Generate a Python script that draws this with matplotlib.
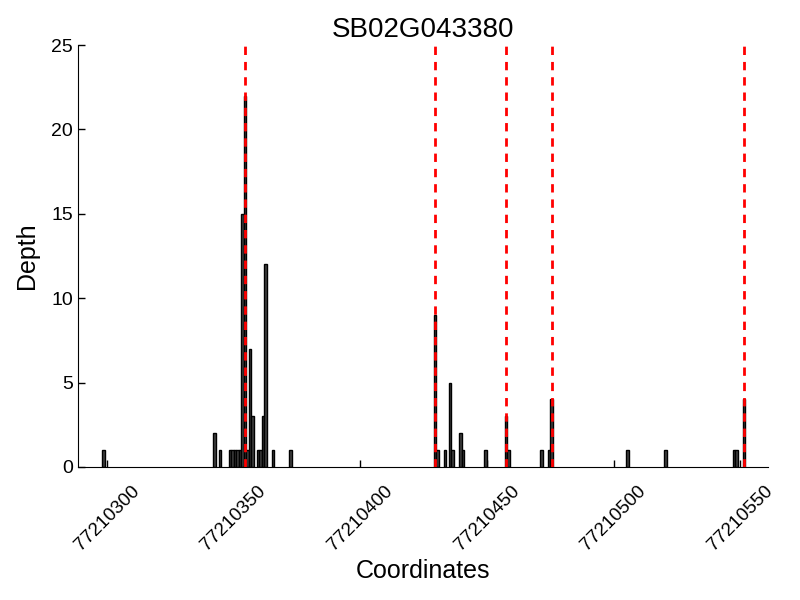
import matplotlib
matplotlib.use("Agg")
import matplotlib.pyplot as plt

title = "SB02G043380"
positions = [77210298, 77210342, 77210344, 77210348, 77210349, 77210350, 77210351,
             77210352, 77210353, 77210354, 77210355, 77210356, 77210357, 77210359,
             77210360, 77210361, 77210362, 77210365, 77210372, 77210429, 77210430,
             77210433, 77210435, 77210436, 77210439, 77210440, 77210449, 77210457,
             77210458, 77210471, 77210474, 77210475, 77210505, 77210520, 77210547,
             77210548, 77210551]
depths = [1, 2, 1, 1, 1, 1, 1,
          1, 15, 22, 1, 7, 3, 1,
          1, 3, 12, 1, 1, 9, 1,
          1, 5, 1, 2, 1, 1, 3,
          1, 1, 1, 4, 1, 1, 1,
          1, 4]
boundaries = [77210354, 77210429, 77210457, 77210475, 77210551]
xticks = [77210300, 77210350, 77210400, 77210450, 77210500, 77210550]
yticks = [0, 5, 10, 15, 20, 25]

plt.rcParams['font.family'] = ['Liberation Sans', 'DejaVu Sans']
plt.rcParams['xtick.direction'] = 'in'
plt.rcParams['ytick.direction'] = 'in'

fig = plt.figure(figsize=(8, 6), dpi=100)
ax = fig.add_axes([0.0975, 0.2217, 0.8625, 0.7033])

ax.bar(positions, depths, width=1, align='edge', color='0.25',
       edgecolor='black', linewidth=1, zorder=2)
for b in boundaries:
    ax.axvline(b + 0.5, color='red', linestyle=(0, (3, 2.5)), linewidth=2, zorder=3)

ax.set_xlim(77210288.5, 77210561)
ax.set_ylim(0, 25)
ax.set_xticks(xticks)
ax.set_xticklabels([str(t) for t in xticks], rotation=45, fontsize=13.5)
ax.set_yticks(yticks)
ax.set_yticklabels([str(t) for t in yticks], fontsize=14)
ax.tick_params(axis='both', length=5, width=1, top=False, right=False)
ax.tick_params(axis='x', pad=11)
ax.spines['top'].set_visible(False)
ax.spines['right'].set_visible(False)
ax.set_xlabel("Coordinates", fontsize=18, labelpad=4)
ax.set_ylabel("Depth", fontsize=18, labelpad=9)
ax.set_title(title, fontsize=20)

fig.savefig("out.png", dpi=100)
